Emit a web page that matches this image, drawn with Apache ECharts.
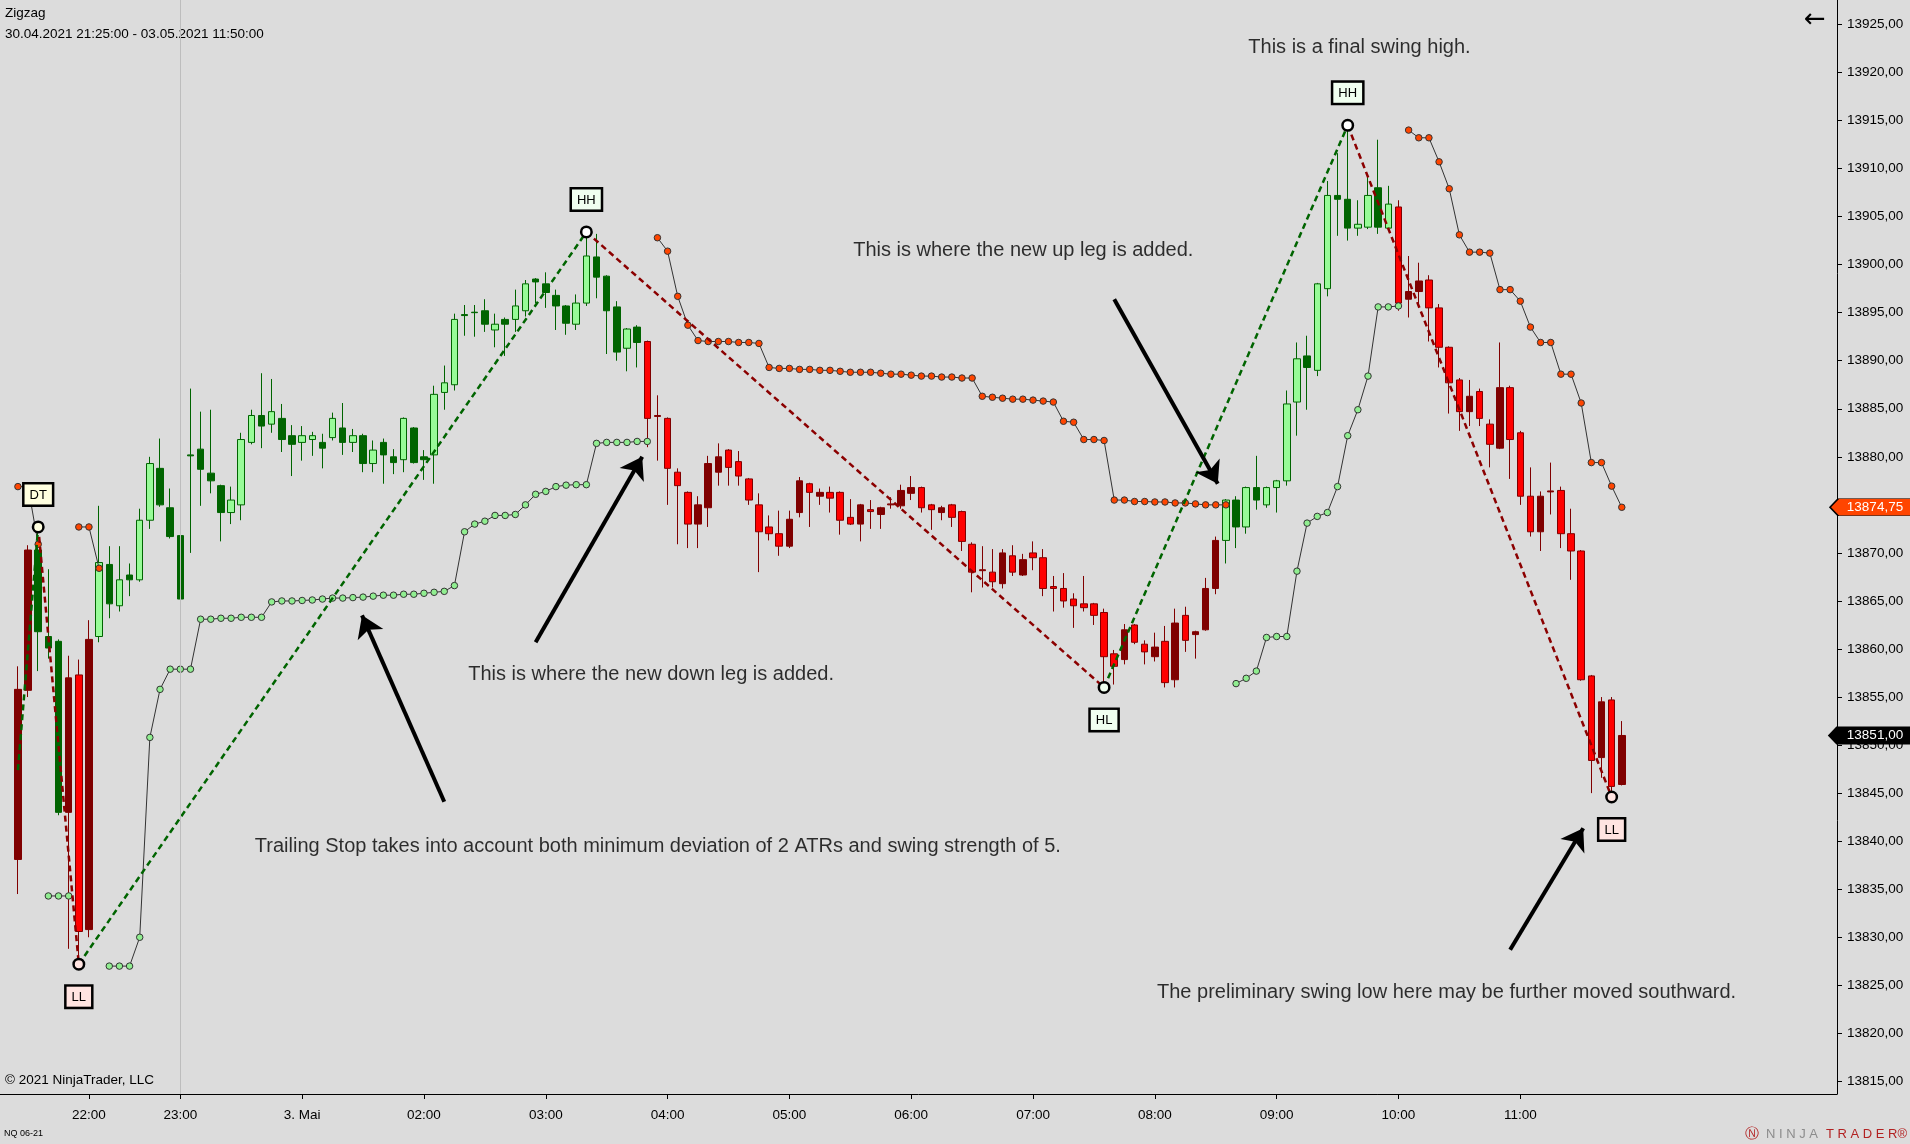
<!DOCTYPE html>
<html>
<head>
<meta charset="utf-8">
<script src="https://cdn.jsdelivr.net/npm/echarts@6/dist/echarts.min.js"></script>
<style>
html,body{margin:0;padding:0;background:#DCDCDC;}
#chart{width:1910px;height:1144px;}
</style>
</head>
<body>
<div id="chart"></div>
<script>
// ---------- DATA ----------
const barOpen = [13838.1,13855.7,13870.3,13861.3,13860.8,13843.0,13857.3,13830.8,13861.3,13868.8,
13864.5,13867.7,13867.2,13873.4,13878.8,13874.7,13871.8,13880.2,13880.8,13878.3,
13877.0,13874.2,13875.0,13881.5,13884.3,13883.4,13884.0,13882.2,13881.5,13881.8,
13881.5,13882.0,13883.0,13881.5,13882.2,13879.3,13881.5,13880.0,13879.7,13883.0,
13880.0,13880.2,13886.7,13887.5,13894.8,13895.05,13895.2,13893.2,13894.3,13894.3,
13895.2,13898.5,13898.0,13896.8,13895.7,13893.8,13896.0,13900.8,13898.8,13895.6,
13891.3,13893.5,13892.0,13884.2,13884.0,13878.4,13876.3,13873.0,13874.7,13878.4,
13880.7,13879.5,13877.7,13875.0,13872.7,13872.0,13870.7,13874.2,13877.2,13875.9,
13876.3,13876.3,13873.7,13873.0,13874.5,13874.0,13875.0,13874.9,13876.2,13876.8,
13875.0,13874.2,13875.0,13874.3,13870.9,13868.15,13868.0,13866.8,13869.7,13867.7,
13870.0,13869.5,13866.5,13866.3,13865.2,13864.7,13864.7,13863.8,13859.5,13858.9,
13862.5,13860.5,13859.2,13860.8,13856.8,13863.5,13861.5,13862.0,13866.3,13871.3,
13875.5,13872.7,13876.8,13875.0,13876.8,13877.5,13885.7,13890.5,13889.0,13897.5,
13907.2,13906.8,13903.8,13903.9,13908.0,13903.8,13906.0,13896.4,13897.2,13898.4,
13895.5,13891.4,13888.0,13884.7,13886.8,13883.4,13880.9,13887.2,13882.5,13875.9,
13872.2,13876.35,13876.5,13872.0,13870.2,13857.2,13848.7,13854.7,13845.9];
const barHigh = [13858.2,13870.8,13872.7,13868.3,13861.0,13859.3,13858.9,13863.0,13874.9,13870.7,
13870.7,13868.9,13874.6,13880.0,13881.9,13876.7,13872.4,13887.1,13884.7,13884.9,
13877.1,13876.9,13882.5,13884.9,13888.7,13888.1,13885.5,13883.3,13883.2,13882.6,
13882.4,13884.6,13885.6,13882.9,13882.4,13881.7,13881.9,13880.8,13884.1,13883.1,
13880.7,13887.4,13889.5,13894.9,13895.8,13895.8,13896.4,13894.9,13894.5,13897.4,
13898.4,13898.6,13899.2,13897.4,13895.8,13896.9,13903.4,13903.2,13898.9,13896.2,
13893.4,13893.7,13892.1,13886.4,13884.1,13878.8,13876.4,13875.9,13880.1,13881.4,
13880.8,13880.6,13877.8,13876.2,13873.9,13874.4,13874.4,13877.9,13877.3,13876.7,
13876.9,13876.4,13875.6,13875.1,13875.5,13874.8,13875.8,13877.1,13878.0,13876.9,
13875.1,13874.9,13875.1,13874.4,13871.1,13870.7,13870.4,13870.4,13870.8,13869.9,
13871.2,13870.4,13867.6,13867.9,13865.8,13867.6,13864.8,13864.2,13859.9,13862.6,
13862.6,13860.9,13861.7,13862.4,13864.2,13864.4,13861.9,13867.4,13871.7,13875.6,
13875.9,13876.9,13880.1,13876.9,13877.6,13886.9,13891.9,13892.6,13898.1,13908.7,
13911.6,13914.5,13906.7,13909.3,13913.0,13908.2,13906.7,13900.9,13900.2,13898.9,
13895.9,13891.5,13888.2,13888.0,13887.1,13883.9,13891.9,13887.4,13882.7,13878.9,
13876.4,13879.4,13876.9,13874.6,13870.3,13857.3,13855.0,13855.0,13852.5];
const barLow = [13834.5,13855.0,13857.7,13859.0,13842.7,13828.8,13827.2,13830.0,13860.7,13863.2,
13863.9,13865.5,13867.0,13872.5,13874.8,13871.5,13863.2,13870.0,13874.9,13876.2,
13871.2,13873.0,13873.4,13881.3,13880.9,13882.5,13880.5,13878.0,13879.6,13880.1,
13878.8,13881.7,13880.2,13880.5,13878.4,13878.4,13877.2,13878.2,13878.4,13879.3,
13877.6,13877.2,13884.9,13886.9,13892.6,13892.5,13893.0,13891.4,13890.5,13893.0,
13894.6,13896.0,13895.5,13893.2,13892.7,13893.2,13895.7,13896.5,13890.7,13890.0,
13888.9,13889.3,13881.0,13879.6,13875.0,13870.9,13870.5,13870.5,13872.7,13877.0,
13877.0,13877.0,13875.0,13868.0,13871.3,13869.7,13870.5,13873.7,13872.7,13875.0,
13874.2,13871.9,13872.9,13871.2,13872.5,13872.5,13874.6,13874.6,13875.5,13874.2,
13872.4,13873.4,13872.7,13870.2,13865.9,13866.4,13866.4,13866.3,13867.6,13867.6,
13868.2,13865.5,13863.9,13864.3,13862.2,13863.9,13862.5,13856.0,13856.3,13858.4,
13860.5,13858.4,13858.7,13856.0,13856.0,13859.7,13859.0,13861.9,13865.7,13868.9,
13870.5,13872.0,13874.5,13874.7,13874.2,13877.0,13882.2,13884.9,13888.4,13896.7,
13903.0,13902.5,13903.0,13903.7,13903.2,13903.7,13895.2,13894.5,13895.5,13892.0,
13889.3,13884.5,13882.7,13883.2,13883.2,13878.9,13880.8,13877.7,13875.0,13871.7,
13870.2,13874.0,13870.5,13867.2,13856.7,13845.0,13846.6,13844.6,13845.8];
const barClose = [13855.8,13870.3,13861.8,13860.1,13843.0,13857.0,13830.6,13861.0,13869.0,13864.7,
13867.2,13867.2,13873.4,13879.3,13875.0,13871.7,13865.2,13880.1,13878.7,13877.5,
13874.2,13875.5,13881.8,13884.3,13883.2,13884.7,13881.8,13881.3,13882.2,13882.2,
13880.9,13884.0,13881.5,13882.2,13879.3,13880.7,13880.2,13879.4,13884.0,13879.4,
13879.7,13886.5,13887.7,13894.3,13894.7,13895.0,13893.8,13893.8,13893.8,13895.7,
13898.0,13898.2,13897.1,13895.7,13893.9,13896.0,13900.9,13898.7,13895.2,13890.9,
13893.3,13891.9,13884.0,13884.3,13878.8,13877.0,13873.0,13875.0,13879.3,13880.0,
13878.9,13878.0,13875.5,13872.2,13872.0,13870.7,13873.5,13877.5,13876.3,13876.3,
13875.7,13873.4,13873.0,13875.0,13874.3,13874.7,13875.1,13876.5,13876.8,13874.7,
13874.5,13874.7,13873.7,13871.2,13868.0,13868.25,13867.0,13870.0,13868.0,13869.3,
13869.5,13866.3,13866.3,13865.0,13864.5,13864.3,13863.5,13859.2,13858.2,13862.0,
13860.7,13859.7,13860.2,13856.5,13862.7,13860.9,13861.8,13866.3,13871.3,13875.5,
13872.7,13876.8,13875.5,13876.8,13877.5,13885.5,13890.2,13889.3,13898.0,13907.2,
13906.8,13903.8,13904.2,13907.2,13903.9,13906.3,13896.0,13897.2,13898.3,13895.5,
13891.4,13887.7,13884.7,13886.3,13884.0,13881.3,13887.2,13881.8,13875.9,13872.2,
13875.9,13876.45,13872.0,13870.2,13856.8,13848.4,13854.5,13845.7,13851.0];

// trend state per bar range: [firstIndex, lastIndex, direction]
const trendRanges = [[0,1,-1],[2,4,1],[5,7,-1],[8,61,1],[62,118,-1],[119,135,1],[136,158,-1]];

// trailing stops (null = not drawn)
const longStop = [null,null,null,13834.3,13834.3,13834.3,null,null,null,13827.0,
13827.0,13827.0,13830.0,13850.8,13855.8,13857.9,13857.9,13857.9,13863.1,13863.1,
13863.2,13863.2,13863.3,13863.3,13863.3,13864.9,13865.0,13865.0,13865.05,13865.1,
13865.2,13865.3,13865.3,13865.35,13865.4,13865.5,13865.6,13865.6,13865.7,13865.7,
13865.8,13865.9,13866.0,13866.6,13872.2,13873.0,13873.3,13873.9,13873.9,13874.0,
13875.0,13876.1,13876.4,13876.9,13877.05,13877.1,13877.1,13881.4,13881.5,13881.5,
13881.5,13881.6,13881.6,null,null,null,null,null,null,null,
null,null,null,null,null,null,null,null,null,null,
null,null,null,null,null,null,null,null,null,null,
null,null,null,null,null,null,null,null,null,null,
null,null,null,null,null,null,null,null,null,null,
null,null,null,null,null,null,null,null,null,null,
13856.4,13856.95,13857.7,13861.2,13861.3,13861.3,13868.1,13873.1,13873.8,13874.2,
13876.9,13882.2,13884.9,13888.4,13895.6,13895.6,13895.7,null,null,null,
null,null,null,null,null,null,null,null,null,null,
null,null,null,null,null,null,null,null,null];
const shortStop = [13876.9,13876.9,13870.9,null,null,null,13872.7,13872.7,13868.4,null,
null,null,null,null,null,null,null,null,null,null,
null,null,null,null,null,null,null,null,null,null,
null,null,null,null,null,null,null,null,null,null,
null,null,null,null,null,null,null,null,null,null,
null,null,null,null,null,null,null,null,null,null,
null,null,null,13902.8,13901.4,13896.7,13893.7,13892.1,13892.0,13892.0,
13892.0,13891.9,13891.9,13891.8,13889.3,13889.2,13889.2,13889.1,13889.1,13889.0,
13889.0,13888.9,13888.8,13888.8,13888.8,13888.7,13888.6,13888.6,13888.5,13888.4,
13888.4,13888.3,13888.3,13888.2,13888.2,13886.3,13886.2,13886.1,13886.0,13886.0,
13885.9,13885.8,13885.7,13883.7,13883.6,13881.8,13881.8,13881.7,13875.5,13875.5,
13875.35,13875.35,13875.3,13875.3,13875.2,13875.2,13875.1,13875.0,13875.0,13875.0,
null,null,null,null,null,null,null,null,null,null,
null,null,null,null,null,null,null,13914.0,13913.2,13913.2,
13910.7,13907.9,13903.1,13901.3,13901.3,13901.2,13897.4,13897.4,13896.2,13893.5,
13891.9,13891.9,13888.6,13888.6,13885.6,13879.4,13879.4,13876.95,13874.75];

// zigzag swing points
const swingIndex = [2, 6, 56, 107, 131, 157];
const swingPrice = [13872.7, 13827.2, 13903.4, 13856.0, 13914.5, 13844.6];
const swingLabel = ['DT', 'LL', 'HH', 'HL', 'HH', 'LL'];
// leg into the first swing point starts before the chart
const firstLegStart = [0, 13847.4];

// axis ticks
const timeTickIndex = [7, 16, 28, 40, 52, 64, 76, 88, 100, 112, 124, 136, 148];
const timeTickLabels = ['22:00','23:00','3. Mai','02:00','03:00','04:00','05:00','06:00','07:00','08:00','09:00','10:00','11:00'];
const priceTicks = [13815,13820,13825,13830,13835,13840,13845,13850,13855,13860,13865,13870,13875,
  13880,13885,13890,13895,13900,13905,13910,13915,13920,13925];
const sessionBreakIndex = 16;
const lastClose = 13851.00;
const lastStop = 13874.75;

// annotations (bar index, price)
const noteText = [
  'This is a final swing high.',
  'This is where the new up leg is added.',
  'This is where the new down leg is added.',
  'Trailing Stop takes into account both minimum deviation of 2 ATRs and swing strength of 5.',
  'The preliminary swing low here may be further moved southward.'
];
const notePos = [[132.16, 13922.6], [99.04, 13901.45], [62.38, 13857.35], [63.04, 13839.5], [140.74, 13824.3]];
const arrowFrom = [[108.0, 13896.4], [51.0, 13860.7], [42.0, 13844.1], [147.0, 13828.7]];
const arrowTo   = [[118.2, 13877.2], [61.5, 13880.0], [33.9, 13863.5], [154.2, 13841.35]];

// axis ranges
const X_MIN = -1.764, X_MAX = 179.2;
const Y_MIN = 13813.69, Y_MAX = 13927.54;

// ---------- BUILD ----------
const FONT = '"Liberation Sans", Arial, sans-serif';
function trendAt(i) {
  for (const r of trendRanges) if (i >= r[0] && i <= r[1]) return r[2];
  return 1;
}
const candleData = barOpen.map((o, i) => {
  const c = barClose[i];
  const up = c > o;
  const t = trendAt(i);
  let fill, border;
  if (t > 0) { fill = up ? '#98FB98' : '#006400'; border = '#006400'; }
  else { fill = up ? '#800000' : '#FF0000'; border = '#800000'; }
  return {
    value: [i, o, c, barLow[i], barHigh[i]],
    itemStyle: { color: fill, color0: fill, borderColor: border, borderColor0: border, borderWidth: 1 }
  };
});
const toLine = arr => arr.map((v, i) => [i, v == null ? '-' : v]);

// zigzag legs
const upLegs = [], downLegs = [];
upLegs.push(firstLegStart, [swingIndex[0], swingPrice[0]], ['-', '-']);
for (let k = 0; k < swingIndex.length - 1; k++) {
  const a = [swingIndex[k], swingPrice[k]], b = [swingIndex[k + 1], swingPrice[k + 1]];
  const target = b[1] > a[1] ? upLegs : downLegs;
  target.push(a, b, ['-', '-']);
}

const styleFor = { DT: '#FFFFE0', LL: '#FFE4E1', HH: '#F0FFF0', HL: '#F0FFF0' };
const swingData = swingIndex.map((x, k) => {
  const lab = swingLabel[k];
  const isHigh = (lab === 'HH' || lab === 'DT' || lab === 'LH');
  return {
    value: [x, swingPrice[k]],
    name: lab,
    itemStyle: { color: lab === 'HH' ? '#FFFFFF' : styleFor[lab] },
    label: { position: isHigh ? 'top' : 'bottom', backgroundColor: styleFor[lab] }
  };
});

const fmtPrice = v => Number(v).toFixed(2).replace('.', ',');
const flagPath = 'path://M0,9 L9,0 L90,0 L90,18 L9,18 Z';

const option = {
  backgroundColor: '#DCDCDC',
  animation: false,
  textStyle: { fontFamily: FONT },
  grid: { left: 0, right: 73, top: 0, bottom: 50, containLabel: false },
  xAxis: {
    type: 'value', min: X_MIN, max: X_MAX,
    axisLine: { show: true, onZero: false, lineStyle: { color: '#000', width: 1 } },
    axisTick: { show: true, customValues: timeTickIndex, length: 5, lineStyle: { color: '#000' } },
    axisLabel: {
      show: true, customValues: timeTickIndex, margin: 14, color: '#000', fontSize: 13.5, fontFamily: FONT,
      formatter: v => { const k = timeTickIndex.indexOf(Math.round(v)); return k >= 0 ? timeTickLabels[k] : ''; }
    },
    splitLine: { show: false }
  },
  yAxis: {
    type: 'value', position: 'right', min: Y_MIN, max: Y_MAX, scale: true,
    axisLine: { show: true, onZero: false, lineStyle: { color: '#000', width: 1 } },
    axisTick: { show: true, customValues: priceTicks, length: 5, lineStyle: { color: '#000' } },
    axisLabel: { show: true, customValues: priceTicks, margin: 10, color: '#000', fontSize: 13.5, fontFamily: FONT, formatter: fmtPrice },
    splitLine: { show: false }
  },
  graphic: [
    { type: 'text', left: 5, top: 6, style: { text: 'Zigzag', fill: '#000', font: '13.5px ' + FONT } },
    { type: 'text', left: 5, top: 27, style: { text: '30.04.2021 21:25:00 - 03.05.2021 11:50:00', fill: '#000', font: '13.5px ' + FONT } },
    { type: 'text', left: 5, top: 1073, style: { text: '\u00A9 2021 NinjaTrader, LLC', fill: '#000', font: '13.5px ' + FONT } },
    { type: 'text', left: 4, top: 1129, style: { text: 'NQ 06-21', fill: '#000', font: '9px ' + FONT } },
    { type: 'text', left: 1804, top: 7, style: { text: '\u2190', fill: '#000', font: '26px "DejaVu Sans"' } },
    { type: 'text', left: 1745, top: 1127, style: { text: '\u24C3', fill: '#B22222', font: '14px "DejaVu Sans"' } },
    { type: 'text', left: 1766, top: 1128, style: { text: 'N I N J A', fill: '#8C8C8C', font: '13px ' + FONT } },
    { type: 'text', left: 1826, top: 1128, style: { text: 'T R A D E R\u00AE', fill: '#B22222', font: '13px ' + FONT } }
  ],
  series: [
    {
      type: 'candlestick', name: 'bars', z: 2, barWidth: 7,
      data: candleData,
      markLine: {
        silent: true, symbol: ['none', 'none'], label: { show: false },
        lineStyle: { color: '#BDBDBD', width: 1, type: 'solid' },
        data: [{ xAxis: sessionBreakIndex }]
      },
      markPoint: {
        silent: true,
        data: [{
          coord: [X_MAX, lastClose], symbol: flagPath, symbolSize: [82, 17], symbolOffset: [34, 0], symbolKeepAspect: false,
          itemStyle: { color: '#000', borderColor: '#000' },
          label: { show: true, position: 'inside', offset: [4, 0], color: '#fff', fontSize: 13.5, fontFamily: FONT, formatter: fmtPrice(lastClose) }
        }]
      }
    },
    {
      type: 'line', name: 'longStop', z: 3, data: toLine(longStop), connectNulls: false,
      symbol: 'circle', symbolSize: 6.5, showSymbol: true,
      itemStyle: { color: '#90EE90', borderColor: '#333', borderWidth: 1 },
      lineStyle: { color: '#333', width: 1 }
    },
    {
      type: 'line', name: 'shortStop', z: 3, data: toLine(shortStop), connectNulls: false,
      symbol: 'circle', symbolSize: 6.5, showSymbol: true,
      itemStyle: { color: '#FF4500', borderColor: '#333', borderWidth: 1 },
      lineStyle: { color: '#333', width: 1 },
      markPoint: {
        silent: true,
        data: [{
          coord: [X_MAX, lastStop], symbol: flagPath, symbolSize: [82, 17], symbolOffset: [34, 0], symbolKeepAspect: false,
          itemStyle: { color: '#FF4500', borderColor: '#000', borderWidth: 1 },
          label: { show: true, position: 'inside', offset: [4, 0], color: '#fff', fontSize: 13.5, fontFamily: FONT, formatter: fmtPrice(lastStop) }
        }]
      }
    },
    {
      type: 'line', name: 'zigUp', z: 4, data: upLegs, connectNulls: false, symbol: 'none',
      lineStyle: { color: '#006400', width: 2.5, type: [6, 4] }
    },
    {
      type: 'line', name: 'zigDown', z: 4, data: downLegs, connectNulls: false, symbol: 'none',
      lineStyle: { color: '#8B0000', width: 2.5, type: [6, 4] }
    },
    {
      type: 'scatter', name: 'swings', z: 5, symbol: 'circle', symbolSize: 10.5,
      itemStyle: { borderColor: '#000', borderWidth: 2.5, opacity: 1 },
      label: {
        show: true, formatter: p => p.name, distance: 16, color: '#000', fontSize: 13, fontFamily: FONT,
        borderColor: '#000', borderWidth: 2.5, padding: [4, 5, 3, 5]
      },
      data: swingData
    },
    {
      type: 'lines', name: 'arrows', coordinateSystem: 'cartesian2d', z: 6,
      symbol: ['none', 'arrow'], symbolSize: 21,
      lineStyle: { color: '#000', width: 4, opacity: 1 },
      data: arrowFrom.map((a, k) => ({ coords: [a, arrowTo[k]] }))
    },
    {
      type: 'scatter', name: 'notes', z: 6, symbolSize: 1, silent: true,
      itemStyle: { color: 'transparent' },
      label: { show: true, position: 'inside', color: '#000', fontSize: 20, fontFamily: FONT, formatter: p => noteText[p.dataIndex] },
      data: notePos
    }
  ]
};

const chart = echarts.init(document.getElementById('chart'), null, { renderer: 'canvas' });
chart.setOption(option);
</script>
</body>
</html>
